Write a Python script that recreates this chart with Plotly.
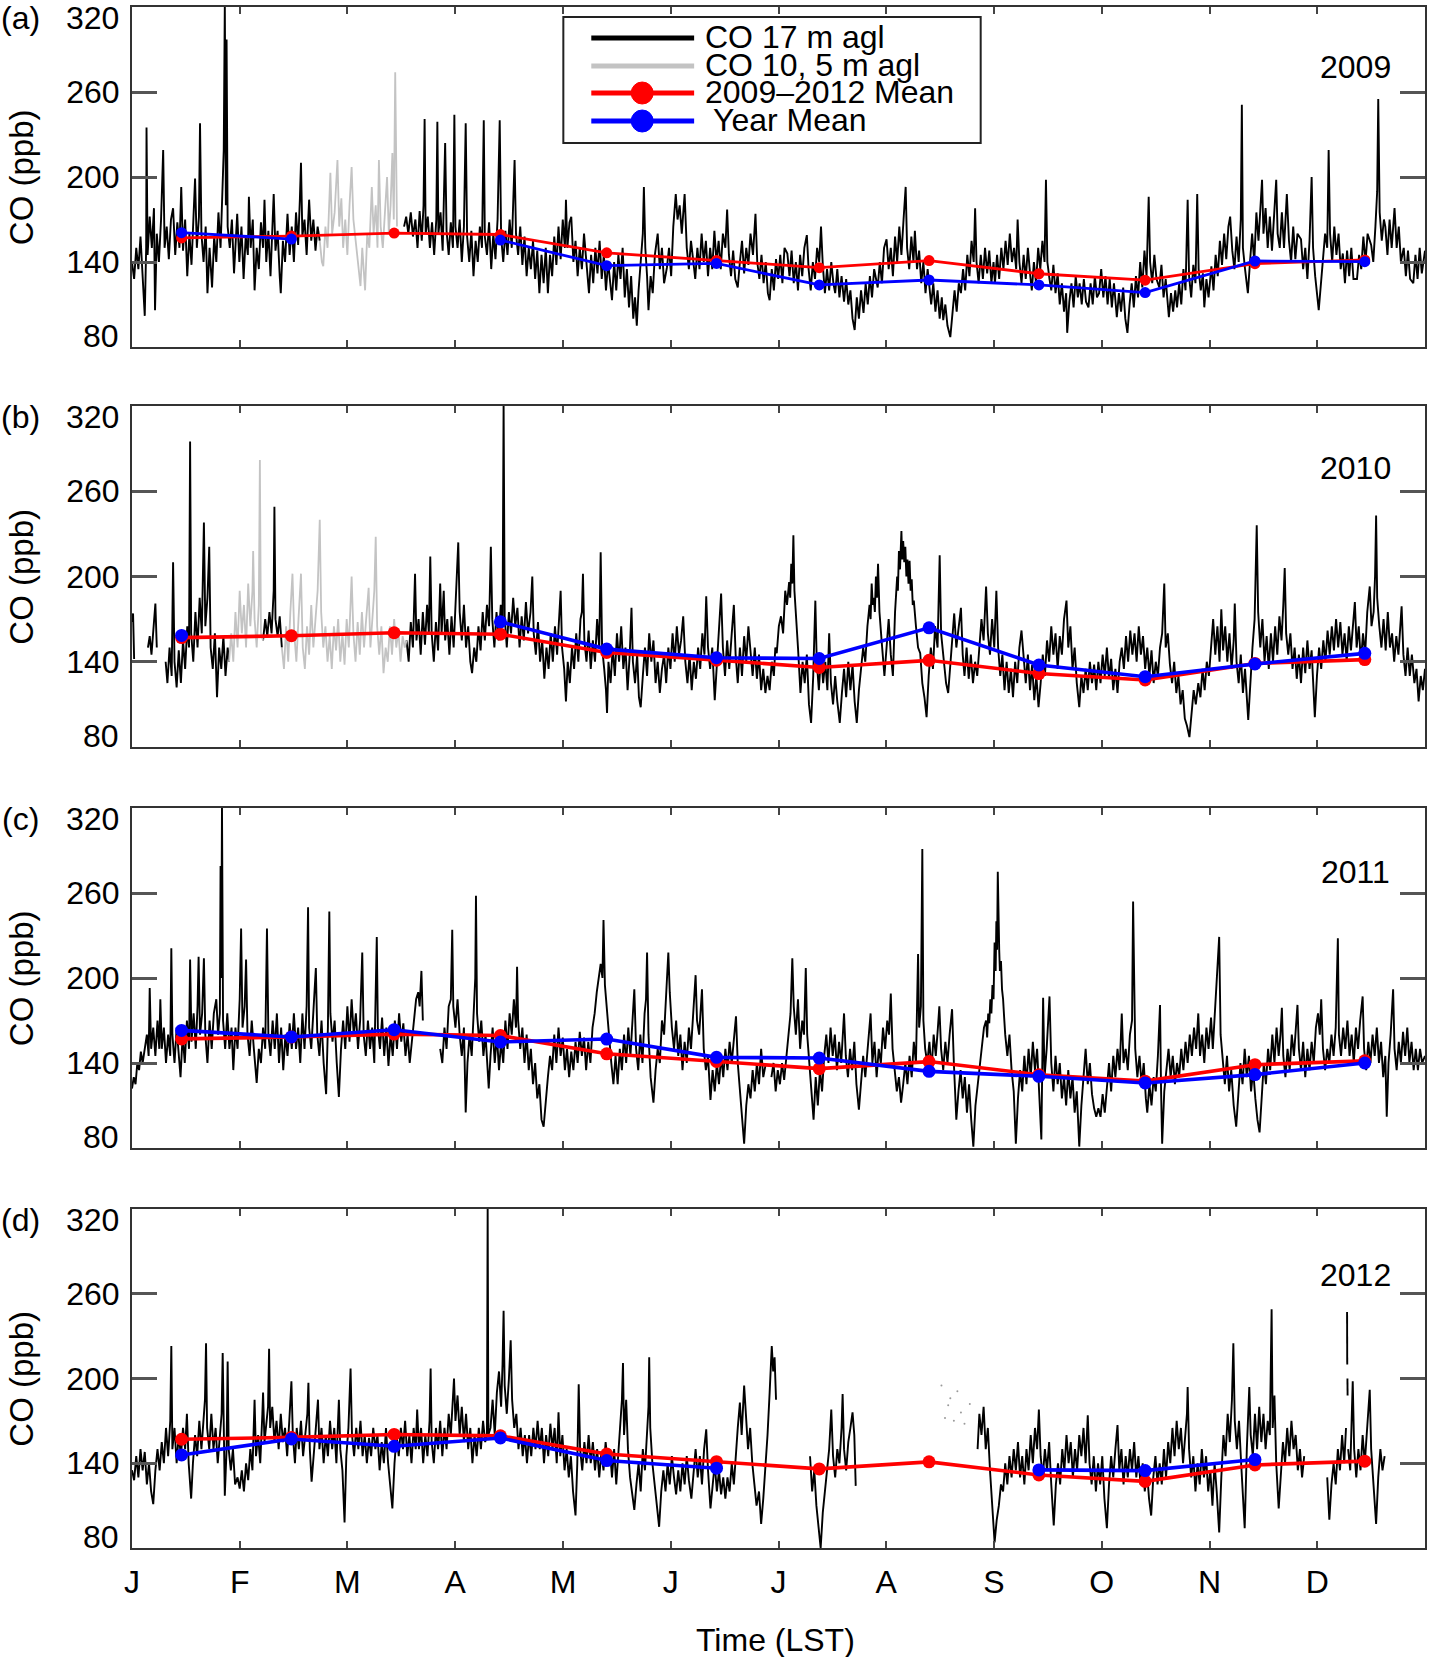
import plotly.graph_objects as go

# ---------------- data ----------------
# month ticks are equally spaced on the reference axis (365/12 days apart)
MONTH_TICKS = [0.0, 30.4, 60.8, 91.25, 121.7, 152.1, 182.5, 212.9, 243.3, 273.75, 304.2, 334.6]
MONTH_LABELS = ["J", "F", "M", "A", "M", "J", "J", "A", "S", "O", "N", "D"]
MEAN_DAY = [14, 45, 74, 104, 134, 165, 194, 225, 256, 286, 317, 348]
MEAN_2009_2012 = [157.0, 158.3, 160.4, 159.4, 146.5, 141.1, 136.0, 141.0, 131.7, 127.2, 138.8, 141.5]
MEAN_2009 = [160.7, 156.2, None, 155.5, 137.4, 139.0, 123.8, 127.3, 123.8, 118.4, 140.7, 140.2]
MEAN_2010 = [158.5, None, None, 168.1, 148.9, 142.8, 142.3, 163.9, 137.7, 129.5, 138.4, 145.9]
MEAN_2011 = [163.0, 158.4, 163.5, 154.8, 156.9, 144.0, 143.5, 134.1, 130.6, 125.9, 131.8, 140.0]
MEAN_2012 = [145.9, 157.2, 152.0, 157.9, 141.9, 136.5, None, None, 135.3, 134.8, 142.6, None]
YEARS = [2009, 2010, 2011, 2012]
PANEL_TAGS = ["(a)", "(b)", "(c)", "(d)"]

# (day of year, CO ppb); None = no data
CO17_2009 = [
(0.0,140),(0.6,128),(1.2,150),(1.8,135),(2.4,158),(3.0,132),(3.6,102),(4.0,150),(4.1,235),(4.4,145),
(5.0,172),(5.6,150),(6.2,178),(6.5,106),(7.0,160),(7.6,140),(8.2,170),(8.8,219),(9.2,150),(9.8,165),
(10.4,142),(11.0,170),(11.6,178),(12.2,145),(12.8,168),(13.4,150),(13.9,193),(14.4,148),(15.0,170),(15.6,130),
(16.2,160),(16.8,138),(17.4,172),(17.8,199),(18.3,150),(18.9,172),(19.2,238),(19.6,160),(20.2,140),(20.8,165),
(21.3,118),(21.9,150),(22.6,122),(23.2,158),(23.8,140),(24.4,175),(25.0,150),(25.6,200),(25.9,219),(26.2,322),
(26.5,180),(26.7,297),(27.0,165),(27.6,150),(28.2,170),(28.8,132),(29.4,160),(29.7,174),(30.3,140),(30.9,165),
(31.5,128),(32.1,158),(32.7,145),(33.0,186),(33.5,150),(34.1,170),(34.6,120),(35.2,150),(35.8,135),(36.4,168),
(37.0,150),(37.4,184),(37.9,140),(38.5,162),(39.1,130),(39.7,170),(40.0,188),(40.5,148),(41.1,162),(41.7,130),
(42.0,118),(42.6,155),(43.2,140),(43.9,174),(44.5,145),(45.1,165),(45.7,140),(46.3,175),(46.9,152),(47.4,185),
(47.7,210),(48.1,158),(48.7,170),(49.3,145),(50.0,184),(50.6,155),(51.2,170),(51.8,148),(52.4,165),(53.0,155),
(60.0,None),
(76.8,165),(77.4,172),(78.0,160),(78.7,175),(79.3,158),(80.0,170),(80.6,150),(81.2,176),(81.8,155),(82.3,180),
(82.6,241),(82.9,160),(83.5,172),(84.1,150),(84.7,168),(85.3,145),(85.9,170),(86.2,239),(86.5,160),(87.1,175),
(87.7,148),(88.1,190),(88.4,224),(88.8,162),(89.4,145),(90.0,168),(90.6,150),(91.0,244),(91.3,165),(91.9,150),
(92.5,170),(93.1,140),(93.7,165),(94.2,238),(94.6,158),(95.2,140),(95.8,162),(96.4,130),(97.0,155),(97.6,140),
(98.2,165),(98.8,150),(99.3,240),(99.6,158),(100.2,145),(100.8,168),(101.4,135),(102.0,160),(102.6,142),(103.2,170),
(103.8,240),(104.2,158),(104.8,140),(105.4,162),(106.0,145),(106.6,170),(107.2,150),(108.0,212),(108.4,160),(109.0,145),
(109.6,165),(110.2,138),(110.8,158),(111.4,130),(112.0,150),(112.6,135),(113.2,155),(113.8,128),(114.4,148),(115.0,118),
(115.6,145),(116.2,125),(116.8,150),(117.4,118),(118.0,145),(118.6,130),(119.2,158),(119.8,138),(120.4,165),(121.0,142),
(121.6,170),(122.2,150),(122.5,184),(122.9,150),(123.5,168),(124.0,172),(124.6,140),(125.2,155),(125.8,130),(126.4,150),
(127.0,135),(127.6,160),(128.2,140),(129.0,118),(129.6,145),(130.2,125),(130.8,150),(131.4,132),(132.0,155),(132.6,128),
(133.2,145),(133.8,120),(134.4,140),(135.0,125),(135.5,113),(136.1,140),(136.7,120),(137.3,145),(137.9,128),(138.5,150),
(139.1,115),(139.7,135),(140.3,108),(140.9,130),(141.5,100),(142.0,115),(142.5,95),(143.0,120),(143.6,140),(144.2,160),
(144.5,193),(144.9,150),(145.4,130),(145.8,106),(146.4,130),(147.0,118),(147.6,145),(148.4,160),(149.0,135),(149.6,150),
(150.2,125),(151.0,136),(151.6,150),(152.2,130),(152.8,165),(153.5,188),(154.0,170),(154.6,180),(155.2,160),(156.0,188),
(156.6,150),(157.2,135),(157.8,155),(158.4,140),(159.0,128),(159.6,150),(160.2,135),(160.8,160),(161.4,140),(162.0,155),
(162.6,130),(163.2,150),(163.8,135),(164.4,162),(165.0,140),(165.6,155),(166.2,135),(166.8,160),(167.5,150),(168.0,177),
(168.5,145),(169.1,130),(169.7,148),(170.3,128),(171.0,122),(171.6,140),(172.2,155),(172.8,132),(173.4,150),(174.0,138),
(174.6,160),(175.3,145),(176.0,174),(176.5,140),(177.1,128),(177.7,145),(178.3,125),(178.9,140),(179.5,118),(180.0,113),
(180.6,135),(181.2,120),(181.8,142),(182.4,128),(183.0,145),(183.6,125),(184.2,150),(185.0,146),(185.6,130),(186.2,148),
(186.8,125),(187.4,140),(188.0,120),(188.6,145),(189.2,130),(189.8,150),(190.5,159),(191.0,135),(191.6,120),(192.2,140),
(192.8,128),(193.4,150),(194.0,140),(194.5,165),(195.0,138),(195.6,118),(196.2,135),(196.8,120),(197.4,140),(198.0,125),
(198.5,118),(199.1,135),(199.7,115),(200.3,130),(201.0,112),(201.6,128),(202.2,110),(202.8,120),(203.4,100),(204.0,92),
(204.6,115),(205.2,100),(205.8,120),(206.5,104),(207.1,125),(207.7,110),(208.3,130),(208.9,115),(209.5,135),(210.5,122),
(211.1,140),(211.7,125),(212.3,150),(213.0,156),(213.6,135),(214.2,150),(214.8,130),(215.4,158),(216.0,140),(216.6,165),
(217.2,145),(217.8,170),(218.4,193),(218.8,150),(219.4,135),(220.0,158),(220.6,140),(221.0,162),(221.6,135),(222.2,148),
(222.8,125),(223.4,140),(224.0,118),(224.6,135),(225.0,125),(225.6,110),(226.2,125),(226.8,105),(227.4,120),(228.0,100),
(228.6,115),(229.0,99),(229.6,110),(230.2,95),(231.0,87),(231.6,105),(232.2,120),(232.8,105),(233.4,125),(234.0,118),
(234.6,135),(235.2,120),(235.8,145),(236.4,130),(237.0,155),(237.6,140),(238.0,178),(238.4,140),(239.0,125),(239.6,145),
(240.2,128),(240.8,150),(241.4,132),(242.0,148),(242.6,125),(243.2,140),(243.6,125),(244.2,145),(244.8,128),(245.4,150),
(246.0,135),(246.6,155),(247.2,138),(247.8,160),(248.4,140),(249.0,150),(249.6,135),(250.0,170),(250.5,140),(251.1,125),
(251.7,145),(252.3,128),(252.9,150),(253.5,132),(254.0,120),(254.6,140),(255.2,125),(255.8,150),(256.4,135),(257.0,155),
(257.6,140),(258.0,198),(258.4,140),(259.0,128),(259.5,120),(260.1,138),(260.7,118),(261.3,132),(261.9,110),(262.5,125),
(263.1,105),(263.7,118),(264.0,90),(264.6,112),(265.2,125),(265.8,108),(266.4,130),(267.0,115),(267.5,125),(268.1,110),
(268.7,128),(269.3,112),(270.0,108),(270.6,125),(271.2,110),(271.8,130),(272.4,115),(273.0,118),(273.6,135),(274.2,115),
(274.8,130),(275.4,110),(276.0,128),(276.6,108),(277.2,125),(278.0,101),(278.6,118),(279.2,105),(279.8,122),(280.4,100),
(281.0,90),(281.6,110),(282.2,125),(282.8,108),(283.4,130),(284.0,115),(284.6,140),(285.2,122),(285.8,148),(286.4,130),
(287.0,186),(287.4,140),(288.0,125),(288.6,145),(289.2,128),(290.0,122),(290.6,138),(291.2,115),(291.8,128),(292.7,101),
(293.3,118),(293.9,105),(294.5,120),(295.0,108),(295.6,125),(296.2,110),(296.8,135),(297.4,120),(298.0,184),(298.4,130),
(299.0,115),(299.6,138),(300.2,125),(300.7,188),(301.1,135),(301.7,120),(302.3,132),(302.7,108),(303.3,128),(303.9,115),
(304.7,137),(305.3,120),(305.9,145),(306.5,130),(307.1,155),(307.7,138),(308.3,160),(308.9,142),(309.5,165),(310.0,172),
(310.6,148),(311.2,135),(311.8,158),(312.4,140),(313.0,170),(313.3,251),(313.6,150),(314.2,135),(315.0,118),(315.6,140),
(316.2,160),(316.8,140),(317.4,175),(318.0,155),(318.6,180),(319.0,198),(319.4,160),(320.0,178),(320.6,150),(321.2,172),
(321.8,148),(322.4,175),(323.0,198),(323.4,160),(324.0,150),(324.6,175),(325.2,150),(326.0,188),(326.6,155),(327.2,140),
(327.8,165),(328.4,142),(329.0,160),(330.0,156),(330.6,135),(331.2,150),(331.8,128),(332.4,155),(333.0,200),(333.4,150),
(334.0,130),(335.0,106),(335.6,125),(336.2,140),(336.8,160),(337.4,150),(337.8,219),(338.2,160),(338.8,140),(339.4,165),
(340.0,145),(340.6,160),(341.2,135),(341.8,146),(342.4,125),(343.0,148),(343.6,130),(344.2,150),(344.8,128),(345.8,128),
(346.4,145),(347.0,135),(347.6,158),(348.2,140),(348.8,160),(349.8,152),(350.4,140),(351.0,165),(351.5,190),(351.8,255),
(352.2,175),(352.8,155),(353.4,170),(353.8,165),(354.4,145),(355.0,170),(355.6,150),(356.4,178),(357.0,150),(357.6,165),
(358.2,140),(359.0,150),(359.6,130),(360.2,148),(360.8,128),(361.7,125),(362.3,145),(362.9,128),(363.5,150),(364.1,132),
(365.0,148)]

CO105_2009 = [
(53.0,155),(53.6,140),(54.0,137),(54.6,165),(55.2,150),(56.0,203),(56.5,160),(57.2,175),(58.0,212),(58.5,165),
(59.1,185),(59.6,150),(60.2,170),(60.8,145),(61.4,180),(62.0,207),(62.5,170),(63.1,155),(63.8,140),(64.5,123),
(65.0,150),(65.8,120),(66.4,160),(67.0,150),(67.7,193),(68.2,160),(68.8,180),(69.3,150),(69.7,212),(70.2,165),
(70.8,150),(71.4,180),(72.0,200),(72.5,160),(73.0,180),(73.5,217),(73.9,170),(74.3,274),(74.6,190),(74.8,165)]

CO17_2010 = [
(0.0,168),(0.3,174),(0.6,142),(2.0,None),
(4.5,150),(5.0,158),(5.5,145),(6.0,162),(6.6,181),(7.0,150),(8.0,None),
(9.5,140),(10.0,125),(10.6,150),(11.2,130),(11.6,210),(12.0,140),(12.6,122),(13.2,148),(13.8,125),(14.4,155),
(15.0,135),(15.6,165),(16.1,150),(16.4,295),(16.7,160),(17.3,140),(17.9,175),(18.5,150),(19.1,185),(19.7,160),
(20.3,238),(20.7,165),(21.3,185),(21.8,221),(22.2,150),(22.8,135),(23.4,160),(24.0,115),(24.6,150),(25.2,135),
(25.8,158),(26.4,130),(27.0,150),(27.4,140),(30.0,None),
(37.0,155),(37.6,170),(38.2,158),(38.8,175),(39.4,160),(40.0,190),(40.2,249),(40.5,170),(41.1,158),(41.7,172),
(42.3,150),(60.0,None),
(77.5,155),(78.1,140),(78.7,168),(79.3,150),(79.9,202),(80.3,155),(80.9,170),(81.5,145),(82.1,175),(82.7,152),
(83.3,180),(83.8,160),(84.2,214),(84.6,160),(85.2,140),(85.8,168),(86.4,148),(87.0,195),(87.4,160),(88.0,190),
(88.4,155),(89.0,170),(89.6,145),(90.2,172),(90.8,150),(91.5,185),(92.1,224),(92.5,175),(93.1,155),(93.7,180),
(94.3,150),(94.9,165),(95.5,140),(96.0,132),(96.6,150),(97.2,140),(97.8,165),(98.4,148),(99.0,175),(99.6,155),
(100.2,180),(100.8,165),(101.3,221),(101.7,170),(102.3,150),(102.9,175),(103.5,155),(104.1,180),(104.6,165),(104.9,322),
(105.2,172),(105.8,150),(106.4,175),(107.0,160),(107.6,185),(108.2,165),(108.8,178),(109.4,150),(110.0,172),(110.6,155),
(111.2,182),(111.8,160),(112.5,175),(113.0,200),(113.4,160),(114.0,145),(114.6,168),(115.2,140),(115.8,155),(116.4,128),
(117.0,150),(117.6,135),(118.2,160),(118.8,140),(119.4,165),(120.0,145),(120.6,170),(121.0,190),(121.4,150),(122.0,135),
(122.5,112),(123.0,140),(123.6,125),(124.2,150),(124.8,135),(125.4,160),(126.0,140),(126.6,170),(127.0,175),(127.3,202),
(127.7,155),(128.3,140),(128.9,162),(129.5,135),(130.1,155),(130.7,140),(131.3,170),(131.9,150),(132.3,217),(132.7,150),
(133.3,135),(133.8,120),(134.1,104),(134.5,140),(135.1,125),(135.7,150),(136.3,130),(136.9,160),(137.5,140),(138.1,165),
(138.7,135),(139.3,150),(139.9,120),(140.5,145),(141.0,178),(141.4,140),(142.0,125),(142.6,145),(143.1,115),(143.6,108),
(144.2,130),(144.8,150),(145.4,130),(146.0,160),(146.6,140),(147.2,155),(147.8,125),(148.4,140),(149.0,118),(149.6,135),
(150.2,145),(150.8,125),(151.4,150),(152.0,135),(152.6,160),(153.2,140),(153.8,165),(154.4,145),(155.0,155),(155.6,172),
(156.2,140),(156.8,125),(157.4,145),(158.0,120),(158.6,140),(159.2,128),(159.8,150),(160.4,135),(161.0,160),(161.6,145),
(162.1,186),(162.6,150),(163.2,135),(163.8,150),(164.5,113),(165.1,140),(165.7,160),(166.3,188),(166.8,150),(167.4,130),
(168.0,155),(168.6,135),(169.3,160),(169.9,180),(170.4,145),(171.0,125),(171.6,150),(172.2,130),(172.8,158),(173.4,140),
(174.0,165),(174.6,145),(175.2,130),(175.8,150),(176.4,128),(177.0,145),(177.6,120),(178.2,135),(178.8,118),(179.4,130),
(180.0,120),(180.6,140),(181.2,130),(181.6,150),(182.0,146),(182.6,165),(183.2,172),(183.8,160),(184.4,190),(184.9,180),
(185.5,196),(185.8,185),(186.1,209),(186.4,195),(186.7,229),(187.0,190),(187.3,175),(187.6,160),(188.0,150),(188.7,118),
(189.3,140),(189.9,125),(190.5,145),(191.1,110),(191.7,97),(192.3,130),(192.9,183),(193.3,140),
(193.9,120),(194.5,145),(195.1,125),(195.7,140),(196.3,120),(196.8,160),(197.3,125),(197.9,110),(198.5,130),(199.1,112),
(199.8,97),(200.4,118),(201.0,135),(201.6,115),(202.2,140),(202.8,120),(203.4,138),(204.0,112),(204.6,97),(205.2,120),
(205.8,135),(206.4,150),(207.0,140),(207.6,165),(208.2,180),(208.5,170),(208.8,195),(209.1,180),(209.4,185),(209.7,175),
(210.0,200),(210.3,185),(210.6,209),(211.0,175),
(211.6,155),(212.4,130),(213.0,150),(213.6,170),(214.2,145),(214.8,130),(215.4,175),(216.0,200),(216.2,190),(216.5,218),
(216.8,205),(217.2,232),(217.4,212),(217.7,225),(218.0,210),(218.3,221),(218.6,200),(218.9,212),(219.2,195),(219.5,211),
(219.8,190),(220.1,198),(220.4,180),(220.7,183),(221.3,165),(221.9,150),(222.5,146),(223.1,125),
(223.7,115),(224.3,101),(224.9,130),(225.5,150),(226.1,135),(226.7,165),(227.4,150),(228.0,215),(228.4,160),(229.2,138),
(229.8,125),(230.4,118),(231.0,140),(231.6,160),(232.1,174),(232.7,150),(233.3,165),(234.0,178),(234.5,145),(235.0,130),
(235.6,150),(236.2,128),(236.8,145),(237.4,125),(238.0,140),(238.6,130),(239.2,150),(239.8,170),(240.4,155),(241.1,193),
(241.6,160),(242.2,145),(242.8,170),(243.4,150),(244.0,190),(244.5,150),(245.1,130),(245.7,145),(246.3,120),(246.9,140),
(247.5,118),(248.1,135),(248.7,115),(249.3,140),(249.9,125),(250.5,150),(251.1,162),(251.7,140),(252.3,125),(252.9,145),
(253.5,120),(254.1,138),(254.7,113),(255.3,130),(255.9,108),(256.5,125),(257.1,145),(257.7,130),(258.3,155),(258.9,140),
(259.5,165),(260.1,145),(260.7,160),(261.3,135),(261.9,158),(262.5,145),(263.1,170),(263.8,183),(264.3,150),(264.9,165),
(265.5,135),(266.1,150),(266.7,125),(267.4,108),(268.0,130),(268.6,118),(269.2,135),(269.8,120),(270.4,140),(271.0,125),
(271.6,138),(272.2,120),(272.8,140),(273.4,125),(274.0,145),(274.6,130),(275.2,150),(275.8,128),(276.4,142),(277.0,120),
(277.6,135),(278.2,118),(278.8,140),(279.4,150),(280.0,135),(280.6,158),(281.2,140),(281.8,162),(282.4,145),(283.0,160),
(283.6,140),(284.2,165),(284.8,145),(285.4,158),(286.0,135),(286.6,150),(287.2,130),(287.8,148),(288.4,125),(289.0,140),
(289.6,130),(290.2,150),(290.8,160),(291.4,195),(291.8,150),(292.4,160),(293.0,138),(293.6,125),(294.2,140),(294.8,118),
(295.4,130),(296.0,110),(296.6,120),(297.2,100),(297.8,95),(298.5,87),(299.1,105),(299.7,120),(300.3,110),(301.0,125),
(301.6,115),(302.2,135),(302.8,120),(303.4,140),(304.0,130),(304.6,150),(305.2,170),(305.8,145),(306.4,165),(307.0,140),
(307.5,177),(308.0,148),(308.6,165),(309.2,140),(309.8,160),(310.4,135),(311.0,155),(311.3,181),(311.8,140),(312.4,125),
(313.0,145),(313.6,118),(314.2,135),(315.1,99),(315.7,130),(316.3,150),(316.9,170),(317.5,236),(317.9,175),(318.5,150),
(319.1,170),(319.7,140),(320.3,158),(320.9,135),(321.5,160),(322.1,140),(322.7,165),(323.3,145),(323.9,172),(324.5,155),
(325.0,180),(325.4,206),(325.8,160),(326.4,145),(327.0,160),(327.6,135),(328.2,150),(328.8,128),(329.4,145),(330.0,125),
(330.6,150),(331.2,132),(331.8,155),(332.4,135),(333.0,148),(333.9,101),(334.5,130),(335.1,150),(335.7,135),(336.3,155),
(336.9,140),(337.5,162),(338.1,145),(338.7,165),(339.3,148),(339.9,170),(340.5,150),(341.1,168),(341.7,145),(342.3,160),
(342.9,140),(343.5,165),(344.1,148),(344.7,170),(345.2,182),(345.7,150),(346.3,165),(346.9,140),(347.5,160),(348.1,145),
(348.7,175),(349.4,193),(349.9,165),(350.5,175),(350.9,200),(351.2,243),(351.5,185),(352.1,165),(352.7,150),(353.3,170),
(353.9,148),(354.5,175),(355.1,150),(355.7,160),(356.3,140),(356.9,158),(357.5,145),(358.4,179),(358.9,145),(359.5,130),
(360.1,150),(360.7,130),(361.3,145),(362.0,125),(362.6,135),(363.2,112),(363.8,130),(364.4,120),(365.0,135)]

CO105_2010 = [
(27.4,140),(28.0,160),(28.6,140),(29.2,175),(29.8,150),(30.4,190),(31.0,160),(31.6,180),(32.2,150),(32.8,195),
(33.4,165),(34.0,190),(34.2,218),(34.6,170),(35.2,150),(35.8,180),(36.1,282),(36.4,160),(37.0,155),(40.0,None),
(42.3,150),(42.9,135),(43.5,165),(44.1,140),(44.7,175),(45.3,202),(45.8,160),(46.4,140),(47.0,170),(47.7,202),
(48.2,150),(48.8,135),(49.4,165),(50.0,145),(50.6,180),(51.2,150),(51.8,170),(52.4,190),(53.0,240),(53.4,175),
(54.0,150),(54.6,165),(55.2,140),(55.8,158),(56.4,135),(57.0,165),(57.6,148),(58.2,170),(58.8,140),(59.4,160),
(60.0,138),(60.6,170),(61.2,150),(62.0,200),(62.5,160),(63.1,140),(63.7,168),(64.3,145),(64.9,175),(65.5,150),
(66.1,170),(66.8,192),(67.3,150),(67.9,170),(68.4,190),(68.8,228),(69.2,165),(69.8,145),(70.4,165),(71.0,132),
(71.6,150),(72.2,140),(72.8,165),(73.4,145),(74.0,170),(74.6,150),(75.2,162),(75.8,140),(76.4,158),(77.0,150),
(77.5,155)]

CO17_2011 = [
(0.0,122),(0.5,130),(1.0,125),(1.5,140),(2.0,135),(2.5,148),(3.0,140),(3.6,150),(4.2,160),(4.7,145),
(5.0,193),(5.4,150),(6.0,165),(6.6,145),(7.2,170),(7.7,150),(8.0,185),(8.4,150),(9.0,165),(9.6,140),
(10.2,160),(10.8,145),(11.1,221),(11.4,160),(12.0,140),(12.6,165),(13.1,150),(13.7,130),(14.3,160),(14.9,140),
(15.5,170),(16.1,150),(16.4,213),(16.8,155),(17.4,175),(18.0,150),(18.5,180),(18.8,215),(19.2,160),(19.8,175),
(20.3,214),(20.7,160),(21.3,140),(21.9,170),(22.5,150),(23.1,175),(23.8,185),(24.3,160),(24.8,175),(25.0,279),
(25.2,200),(25.4,322),(25.7,170),(26.3,150),(26.9,175),(27.5,150),(28.1,165),(28.6,135),(29.2,165),(29.8,150),
(30.4,185),(30.8,235),(31.2,165),(31.8,180),(32.2,213),(32.6,160),(33.2,145),(33.8,170),(34.4,150),(35.2,126),
(35.8,150),(36.4,140),(37.0,165),(37.6,150),(38.1,235),(38.5,160),(39.1,145),(39.7,170),(40.3,150),(40.9,175),
(41.5,140),(42.1,165),(42.7,135),(43.3,160),(43.9,145),(44.5,168),(45.1,150),(45.7,175),(46.3,150),(46.9,165),
(47.5,140),(48.1,175),(48.7,150),(49.3,180),(49.7,250),(50.0,165),(50.6,150),(51.2,178),(51.9,207),(52.3,160),
(52.9,145),(53.5,170),(54.1,140),(54.8,118),(55.3,165),(55.7,247),(56.0,175),(56.6,155),(57.2,170),(57.8,140),
(58.4,116),(59.0,150),(59.6,170),(60.2,150),(60.8,180),(61.4,155),(62.0,185),(62.6,160),(63.2,175),(63.8,150),
(64.4,170),(65.0,218),(65.4,160),(66.0,145),(66.6,170),(67.2,150),(67.8,165),(68.4,140),(68.8,180),(69.1,229),
(69.4,165),(70.0,150),(70.6,172),(71.2,145),(71.8,165),(72.4,138),(73.0,160),(73.6,145),(74.2,170),(74.8,150),
(75.4,175),(76.0,155),(76.6,168),(77.2,145),(77.8,160),(78.4,140),(79.0,155),(79.6,170),(80.2,185),(80.8,190),
(81.2,180),(81.7,205),(82.1,170),(84.0,None),
(87.0,150),(87.6,140),(88.2,165),(88.8,150),(89.4,180),(90.0,185),(90.4,234),(90.7,180),(91.3,165),(91.9,185),
(92.5,160),(93.1,145),(93.7,165),(94.2,105),(94.7,140),(95.3,160),(95.9,145),(96.5,175),(96.9,200),(97.1,258),
(97.4,175),(98.0,155),(98.6,170),(99.2,145),(99.8,160),(100.4,135),(100.7,122),(101.2,145),(101.8,165),(102.4,140),
(103.0,160),(103.6,135),(104.2,155),(104.8,140),(105.4,170),(106.0,150),(106.6,175),(107.2,160),(107.8,185),(108.4,165),
(108.7,208),(109.0,170),(109.6,150),(110.2,165),(110.8,140),(111.4,160),(112.0,135),(112.6,150),(113.2,125),(113.8,140),
(114.4,115),(115.0,125),(115.6,100),(116.2,95),(116.8,115),(117.4,130),(118.0,145),(118.6,135),(119.2,160),(119.8,140),
(120.4,165),(121.0,145),(121.6,158),(122.2,135),(122.8,150),(123.4,130),(124.0,148),(124.6,135),(125.2,155),(125.8,140),
(126.4,162),(127.0,145),(127.6,158),(128.2,135),(128.8,155),(129.4,140),(130.0,165),(130.6,175),(131.2,190),(131.7,200),
(132.3,210),(132.8,200),(133.1,241),(133.5,195),(134.1,175),(134.7,160),(135.3,140),(135.9,125),(136.5,145),(137.1,125),
(137.7,150),(138.3,135),(138.9,160),(139.5,140),(140.1,165),(140.7,145),(141.3,170),(141.8,192),(142.3,150),(142.9,135),
(143.5,160),(144.1,140),(144.7,175),(145.1,185),(145.4,218),(145.8,160),(146.4,130),(147.2,112),(147.8,135),(148.4,150),
(149.0,140),(149.6,170),(150.2,160),(150.8,190),(151.1,200),(151.4,218),(151.8,190),(152.4,165),(153.0,150),(153.6,170),
(154.2,145),(154.8,160),(155.4,135),(156.0,155),(156.6,140),(157.2,165),(157.8,150),(158.4,175),(159.1,202),(159.5,170),
(160.1,160),(160.9,192),(161.4,150),(162.0,135),(162.6,145),(163.3,114),(163.9,135),(164.5,120),(165.1,140),(165.7,125),
(166.3,145),(166.9,130),(167.5,150),(168.1,135),(168.7,155),(169.3,140),(169.9,160),(170.5,173),(171.0,140),(171.6,120),
(172.2,105),(172.8,83),(173.4,110),(174.0,125),(174.6,115),(175.2,135),(175.8,120),(176.4,140),(177.0,125),(177.6,150),
(178.2,130),(178.8,138),(179.5,None),
(180.5,130),(181.1,140),(181.7,120),(182.3,135),(182.9,125),(183.5,140),(184.1,128),(184.7,145),(185.3,160),(185.9,175),
(186.4,214),(186.8,180),(187.4,160),(188.0,185),(188.6,150),(189.2,170),(189.7,160),(190.2,207),(190.6,160),(191.2,140),
(191.8,120),(192.4,100),(193.0,130),(193.6,110),(194.2,135),(194.8,120),(195.4,145),(196.0,160),(196.6,140),(197.2,165),
(197.8,145),(198.4,160),(199.0,135),(199.6,155),(200.2,140),(201.0,175),(201.5,145),(202.1,130),(202.7,150),(203.3,135),
(203.9,155),(204.5,125),(205.2,107),(205.8,130),(206.4,145),(207.0,130),(207.6,150),(208.5,175),(209.0,140),(209.6,155),
(210.2,130),(210.8,150),(211.4,140),(212.0,165),(212.6,150),(213.2,170),(213.7,160),(214.2,189),(214.7,150),(215.3,135),
(215.9,120),(216.5,130),(217.1,112),(217.7,125),(218.3,140),(218.9,125),(219.5,145),(220.1,130),(220.7,155),(221.3,140),
(221.9,217),(222.2,165),(222.7,180),(223.1,291),(223.4,170),(223.9,150),(224.5,140),(225.1,155),(225.7,135),(226.3,160),
(226.9,145),(227.5,165),(227.9,180),(228.4,150),(229.0,135),(229.6,155),(230.2,140),(230.8,160),(231.5,178),(232.0,140),
(232.7,100),(233.3,120),(233.9,135),(234.5,115),(235.1,130),(235.7,105),(236.3,125),(236.9,100),(237.5,81),(238.1,110),
(238.7,125),(239.3,140),(239.9,150),(240.5,165),(241.1,170),(241.4,158),(241.7,175),(242.0,168),(242.3,185),(242.6,175),
(242.9,195),(243.2,185),(243.5,225),(243.8,205),(244.0,240),(244.2,220),(244.4,275),(244.6,230),(244.8,220),(245.0,205),
(245.3,212),(245.6,192),(245.9,185),(246.2,172),(246.5,160),(247.1,145),(247.7,160),(248.3,135),(248.9,120),(249.5,83),
(250.1,115),(250.7,135),(251.3,120),(251.9,145),(252.5,125),(253.1,150),(253.7,130),(254.3,155),(254.9,135),(255.5,150),
(256.1,120),(256.7,86),(257.2,186),(257.6,130),(258.2,150),(259.0,187),(259.5,140),(260.1,120),(260.7,145),(261.3,125),
(261.9,140),(262.5,115),(263.1,130),(263.7,110),(264.3,135),(264.9,115),(265.5,130),(266.1,105),(266.7,120),(267.4,81),
(268.0,110),(268.6,130),(269.2,150),(269.8,125),(270.4,140),(271.0,118),(271.6,108),(272.2,102),(272.8,108),(273.4,102),
(274.0,118),(274.6,105),(275.2,125),(275.8,140),(276.4,120),(277.0,145),(277.6,130),(278.2,150),(278.8,135),(279.4,175),
(279.9,140),(280.5,150),(281.1,135),(281.7,160),(282.3,170),(282.6,254),(282.9,200),(283.2,150),(283.8,130),(284.4,145),
(285.0,125),(285.6,140),(286.2,115),(286.6,105),(287.2,125),(287.8,110),(288.4,130),(289.0,120),(289.6,145),(290.2,181),
(290.5,120),(290.8,83),(291.4,120),(292.0,135),(292.6,150),(293.2,130),(293.8,145),(294.4,125),(295.0,140),(295.6,130),
(296.2,150),(296.8,135),(297.4,155),(298.0,140),(298.6,160),(299.2,145),(299.8,165),(300.4,150),(301.0,175),(301.5,145),
(302.1,160),(302.7,140),(303.3,165),(303.9,150),(304.6,172),(305.1,150),(305.7,175),(306.3,198),(306.9,229),(307.3,160),
(307.9,140),(308.5,125),(309.1,145),(309.7,120),(310.3,135),(311.0,110),(311.7,95),(312.3,120),(312.9,140),(313.5,125),
(314.1,150),(314.7,130),(315.3,145),(315.9,120),(316.5,135),(317.1,115),(317.7,100),(318.3,91),(318.9,120),(319.5,140),
(320.1,125),(320.7,150),(321.3,135),(321.9,160),(322.5,140),(323.1,165),(323.7,145),(324.2,160),(324.6,179),(325.0,145),
(325.6,130),(326.2,150),(326.8,135),(327.4,160),(328.0,145),(328.6,165),(329.0,181),(329.4,150),(330.0,135),(330.6,155),
(331.2,130),(331.8,150),(332.4,135),(333.0,155),(333.6,140),(334.2,165),(334.8,175),(335.3,160),(335.7,185),(336.2,150),
(336.8,135),(337.4,150),(338.0,140),(338.6,160),(339.2,145),(339.8,165),(340.4,228),(340.7,160),(341.3,145),(341.9,165),
(342.5,150),(343.1,170),(343.7,145),(344.3,160),(344.9,140),(345.5,165),(346.1,150),(346.7,170),(347.4,187),(347.8,150),
(348.4,135),(349.0,155),(349.6,140),(350.2,160),(350.8,145),(351.4,165),(352.0,140),(352.6,155),(353.2,130),(353.8,145),
(354.2,102),(354.7,140),(355.3,160),(356.0,192),(356.4,150),(357.0,135),(357.6,155),(358.2,140),(358.8,162),(359.4,145),
(360.0,165),(360.6,140),(361.2,155),(361.8,135),(362.4,150),(363.0,135),(363.6,150),(364.2,140),(365.0,145)]

CO17_2012 = [
(0.0,135),(0.6,128),(1.2,145),(1.8,130),(2.4,150),(3.0,135),(3.6,148),(4.2,125),(4.8,140),(5.4,120),
(6.0,111),(6.6,135),(7.2,150),(7.8,135),(8.4,155),(9.0,140),(9.6,165),(10.2,145),(10.8,170),(11.1,223),
(11.4,150),(12.0,165),(12.6,140),(13.2,160),(13.8,145),(14.4,165),(15.0,150),(15.5,175),(16.0,140),(16.7,115),
(17.2,140),(17.8,160),(18.4,145),(19.0,170),(19.6,150),(20.2,175),(20.6,185),(20.9,225),(21.2,165),(21.8,150),
(22.4,175),(23.0,150),(23.6,165),(24.2,140),(24.8,160),(25.3,175),(25.6,218),(25.9,150),(26.2,117),(26.7,150),
(27.0,212),(27.3,150),(27.9,135),(28.5,150),(29.1,125),(29.8,130),(30.4,122),(31.0,135),(31.6,120),(32.2,140),
(32.8,128),(33.4,150),(34.0,135),(34.6,185),(35.0,145),(35.6,160),(36.2,140),(36.8,175),(37.0,190),(37.4,155),
(38.0,170),(38.4,180),(38.7,221),(39.0,165),(39.6,180),(40.2,155),(40.8,170),(41.4,150),(42.0,175),(42.6,155),
(43.2,165),(43.8,145),(44.4,170),(45.0,198),(45.4,160),(46.0,140),(46.5,165),(47.1,150),(47.7,170),(48.3,145),
(48.9,160),(49.5,175),(49.8,197),(50.2,150),(50.7,127),(51.3,150),(51.9,165),(52.5,185),(52.9,150),(53.5,165),
(54.1,140),(54.7,160),(55.3,145),(55.9,170),(56.5,150),(57.1,165),(57.7,140),(58.4,185),(58.8,150),(59.4,135),
(60.0,98),(60.5,145),(61.1,165),(61.7,207),(62.1,160),(62.7,145),(63.3,165),(63.9,150),(64.5,170),(65.1,145),
(65.7,160),(66.3,140),(66.9,158),(67.5,145),(68.1,165),(68.7,150),(69.3,160),(69.9,135),(70.5,155),(71.1,140),
(71.7,165),(72.3,140),(72.9,125),(73.5,108),(74.1,140),(74.7,160),(75.3,145),(75.9,165),(76.5,150),(77.1,170),
(77.7,145),(78.3,160),(78.9,140),(79.5,165),(80.1,150),(80.5,178),(81.0,150),(81.6,165),(82.2,140),(82.8,160),
(83.4,145),(84.0,170),(84.3,207),(84.6,155),(85.2,140),(85.8,165),(86.4,150),(87.0,170),(87.6,145),(88.2,165),
(88.8,150),(89.4,175),(90.0,160),(90.6,185),(90.9,200),(91.3,170),(91.9,188),(92.5,160),(93.1,180),(93.7,155),
(94.3,175),(94.9,150),(95.5,165),(96.1,140),(96.7,160),(97.3,145),(97.9,165),(98.5,150),(99.1,170),(99.7,155),
(100.2,160),(100.4,322),(100.6,160),(101.2,165),(101.8,185),(102.4,160),(103.0,190),(103.6,205),(104.2,180),(104.6,210),
(104.9,248),(105.2,195),(105.8,175),(106.4,200),(106.9,227),(107.3,185),(107.9,165),(108.5,175),(109.1,150),(109.7,165),
(110.3,145),(110.9,160),(111.5,140),(112.1,160),(112.7,145),(113.3,165),(113.9,150),(114.5,170),(115.1,150),(115.7,165),
(116.3,140),(116.9,160),(117.5,145),(118.1,168),(118.7,150),(119.3,165),(119.9,140),(120.4,176),(120.9,145),(121.5,160),
(122.1,135),(122.7,150),(123.3,130),(123.9,145),(124.5,120),(125.2,103),(125.7,140),(126.1,196),(126.5,150),(127.1,135),
(127.7,155),(128.3,140),(128.9,160),(129.5,140),(130.1,155),(130.7,135),(131.3,150),(131.9,130),(132.5,148),(133.1,135),
(133.7,155),(134.3,140),(134.9,150),(135.5,130),(136.1,150),(136.7,125),(137.3,150),(137.9,170),(138.3,185),(138.6,211),
(138.9,160),(139.5,185),(140.0,150),(140.6,130),(141.2,120),(141.8,107),(142.4,125),(143.0,140),(143.6,120),(144.2,150),
(144.8,135),(145.4,165),(145.8,180),(146.0,215),(146.3,165),(146.9,140),(147.5,125),(148.1,110),(148.8,95),(149.4,120),
(150.0,135),(150.6,120),(151.2,140),(151.8,125),(152.4,145),(153.0,130),(153.6,118),(154.2,135),(154.8,120),(155.4,140),
(156.0,125),(156.6,145),(157.2,128),(157.9,115),(158.5,135),(159.1,150),(159.7,130),(160.3,145),(160.9,125),(161.5,150),
(162.1,164),(162.6,135),(163.3,108),(163.9,125),(164.5,140),(165.1,120),(165.7,135),(166.3,118),(166.9,130),(167.5,115),
(168.1,130),(168.7,120),(169.3,140),(169.9,125),(170.5,150),(171.0,165),(171.6,183),(172.1,160),(172.8,195),(173.3,170),
(173.9,150),(174.5,165),(175.1,140),(175.7,125),(176.3,110),(177.0,120),(177.6,97),(178.2,115),(178.8,135),(179.4,160),
(180.0,190),(180.6,223),(181.0,205),(181.4,215),(181.8,185),(186.0,None),
(191.4,145),(192.0,120),(192.6,135),(193.2,110),(193.8,95),(194.4,80),(195.0,105),(195.6,120),(196.2,140),(196.8,150),
(197.4,178),(197.9,145),(198.5,130),(199.1,150),(199.7,140),(200.3,165),(200.6,189),(201.0,150),(201.6,135),(202.2,155),
(202.8,165),(203.4,176),(203.9,160),(204.3,124),(220.0,None),
(238.7,150),(239.2,175),(239.8,160),(240.4,180),(241.0,150),(241.6,165),(242.2,135),(242.8,110),(243.5,84),(244.1,100),
(244.7,110),(245.3,125),(245.9,120),(246.5,140),(247.1,125),(247.7,145),(248.3,130),(248.9,150),(249.5,135),(250.1,155),
(250.7,130),(251.3,145),(251.9,125),(252.5,150),(253.1,135),(253.7,160),(254.3,140),(254.9,165),(255.5,150),(256.0,178),
(256.5,145),(257.1,130),(257.7,150),(258.3,135),(258.9,155),(259.5,125),(260.2,96),(260.8,125),(261.4,140),(262.0,125),
(262.6,150),(263.2,135),(263.8,160),(264.4,140),(265.0,155),(265.6,130),(266.2,150),(266.8,135),(267.4,160),(268.0,145),
(268.6,165),(269.2,140),(269.8,174),(270.3,140),(270.9,125),(271.5,145),(272.1,120),(272.7,140),(273.3,125),(273.9,145),
(274.5,115),(275.2,94),(275.8,125),(276.4,145),(277.0,130),(277.6,150),(278.2,167),(278.7,135),(279.3,150),(279.9,125),
(280.5,145),(281.1,130),(281.7,150),(282.3,135),(282.9,155),(283.5,130),(284.1,145),(284.7,125),(285.3,140),(285.9,120),
(286.5,135),(287.1,115),(287.7,103),(288.3,130),(288.9,145),(289.5,125),(290.1,140),(290.7,125),(291.3,150),(291.9,130),
(292.5,155),(293.1,140),(293.7,165),(294.3,145),(294.9,170),(295.5,150),(296.1,165),(296.7,140),(297.3,160),(297.8,175),
(298.0,194),(298.4,150),(299.0,130),(299.6,145),(300.2,120),(300.8,140),(301.4,125),(302.0,150),(302.6,130),(303.2,145),
(303.8,120),(304.4,135),(305.0,110),(305.6,140),(306.2,120),(306.9,91),(307.5,130),(308.1,160),(308.7,145),(309.3,175),
(309.9,155),(310.5,185),(310.9,225),(311.3,170),(311.9,150),(312.5,170),(313.1,140),(313.6,120),(314.1,94),(314.7,150),
(315.4,194),(315.8,160),(316.4,145),(317.0,175),(317.6,150),(318.2,180),(318.8,155),(319.4,175),(320.0,150),(320.6,170),
(321.2,160),(321.7,249),(322.0,165),(322.5,188),(323.0,140),(323.7,108),(324.3,135),(324.9,155),(325.5,140),(326.1,165),
(326.7,145),(327.3,170),(327.9,150),(328.5,160),(329.1,135),(329.7,150),(330.3,130),(330.9,145),(334.0,None),
(337.4,130),(338.0,100),(338.6,125),(339.2,140),(339.8,125),(340.4,150),(341.0,135),(341.6,160),(342.2,140),(342.7,165),
(342.9,None),(343.0,247),(343.05,210),(343.1,None),(343.1,200),(343.15,188),(343.2,None),
(343.3,150),(343.9,135),(344.6,198),(345.0,150),(345.6,130),(346.2,150),(346.8,135),(347.4,160),(348.0,140),(348.6,165),
(349.4,192),(349.8,150),(350.4,130),(351.2,97),(351.8,130),(352.4,150),(353.0,135),(353.6,145)]

CO_DOTS_2012 = [(228.5,195),(229.5,172),(230.4,181),(231.0,186),(232.0,170),(233.0,191),(234.0,176),(235.0,168),(236.5,182)]

# ---------------- figure ----------------
FONT = "Liberation Sans, Arial, Helvetica, sans-serif"
FS = 32
W, H = 1430, 1657
ML, MR, MT, MB = 132, 3, 7, 109
PW, PH = W - ML - MR, H - MT - MB
PANEL_PX = [(7, 347), (406, 747), (808, 1148), (1209, 1548)]


def py(px):
    return (H - MB - px) / PH


def px_x(px):
    return (px - ML) / PW


def split(pairs):
    return [p[0] for p in pairs], [p[1] for p in pairs]


fig = go.Figure()
series17 = [CO17_2009, CO17_2010, CO17_2011, CO17_2012]
series105 = [CO105_2009, CO105_2010, None, None]
year_means = [MEAN_2009, MEAN_2010, MEAN_2011, MEAN_2012]

annotations = []
for i in range(4):
    n = i + 1
    xa = "x" if n == 1 else f"x{n}"
    ya = "y" if n == 1 else f"y{n}"
    d, v = split(series17[i])
    fig.add_trace(go.Scatter(x=d, y=v, mode="lines", line=dict(color="black", width=1.9),
                             xaxis=xa, yaxis=ya, showlegend=False, connectgaps=False, hoverinfo="skip"))
    if series105[i] is not None:
        d, v = split(series105[i])
        fig.add_trace(go.Scatter(x=d, y=v, mode="lines", line=dict(color="#c3c3c3", width=1.8),
                                 xaxis=xa, yaxis=ya, showlegend=False, connectgaps=False, hoverinfo="skip"))
    if n == 4:
        d, v = split(CO_DOTS_2012)
        fig.add_trace(go.Scatter(x=d, y=v, mode="markers", marker=dict(color="#9a9a9a", size=2),
                                 xaxis=xa, yaxis=ya, showlegend=False, hoverinfo="skip"))
    lw = 2.8 if n == 1 else 3.6
    ms = 11 if n == 1 else 13
    fig.add_trace(go.Scatter(x=MEAN_DAY, y=MEAN_2009_2012, mode="lines+markers",
                             line=dict(color="#ff0000", width=lw), marker=dict(color="#ff0000", size=ms),
                             xaxis=xa, yaxis=ya, showlegend=False, connectgaps=False))
    fig.add_trace(go.Scatter(x=MEAN_DAY, y=year_means[i], mode="lines+markers",
                             line=dict(color="#0000ff", width=lw), marker=dict(color="#0000ff", size=ms),
                             xaxis=xa, yaxis=ya, showlegend=False, connectgaps=False))

    top, bot = PANEL_PX[i]
    common_x = dict(domain=[0, 1], range=[0, 365], tickmode="array", tickvals=MONTH_TICKS,
                    ticktext=MONTH_LABELS, ticks="inside", ticklen=7, tickwidth=2, tickcolor="#444",
                    showline=True, linecolor="#333", linewidth=2, mirror="ticks", showgrid=False,
                    zeroline=False, anchor=ya, showticklabels=(n == 4),
                    tickfont=dict(family=FONT, size=FS, color="black"), ticklabelstandoff=5)
    common_y = dict(domain=[py(bot), py(top)], range=[80, 320], tickmode="array",
                    tickvals=[140, 200, 260], ticktext=["140", "200", "260"], ticks="inside",
                    ticklen=25, tickwidth=3, tickcolor="#555", showline=True, linecolor="#333",
                    linewidth=2, mirror="ticks", showgrid=False, zeroline=False, anchor=xa,
                    tickfont=dict(family=FONT, size=FS, color="black"), ticklabelstandoff=4)
    fig.update_layout(**{("xaxis" if n == 1 else f"xaxis{n}"): common_x,
                         ("yaxis" if n == 1 else f"yaxis{n}"): common_y})

    # edge tick labels (shifted inward as in the reference)
    annotations.append(dict(x=px_x(121), y=320, xref="paper", yref=ya, text="320", showarrow=False,
                            xanchor="right", yanchor="middle", yshift=-11,
                            font=dict(family=FONT, size=FS, color="black")))
    annotations.append(dict(x=px_x(121), y=80, xref="paper", yref=ya, text="80", showarrow=False,
                            xanchor="right", yanchor="middle", yshift=11,
                            font=dict(family=FONT, size=FS, color="black")))
    # panel tag
    annotations.append(dict(x=px_x(20), y=py(top + 11), xref="paper", yref="paper", text=PANEL_TAGS[i],
                            showarrow=False, xanchor="center", yanchor="middle",
                            font=dict(family=FONT, size=FS, color="black")))
    # y title
    annotations.append(dict(x=px_x(21), y=py((top + bot) / 2), xref="paper", yref="paper",
                            text="CO (ppb)", showarrow=False, textangle=-90, xanchor="center",
                            yanchor="middle", font=dict(family=FONT, size=33, color="black")))
    # year label
    annotations.append(dict(x=px_x(1357), y=py(top + 60 + i * 2), xref="paper", yref="paper",
                            text=str(YEARS[i]), showarrow=False, xanchor="center", yanchor="middle",
                            font=dict(family=FONT, size=FS, color="black")))

annotations.append(dict(x=px_x(776), y=py(1640), xref="paper", yref="paper", text="Time (LST)",
                        showarrow=False, xanchor="center", yanchor="middle",
                        font=dict(family=FONT, size=FS, color="black")))

# ---- legend drawn by hand (MATLAB-like) ----
shapes = [dict(type="rect", xref="paper", yref="paper", x0=px_x(564), x1=px_x(982),
               y0=py(143), y1=py(17), fillcolor="white", line=dict(color="#222", width=2), layer="above")]
legend_rows = [("CO 17 m agl", "black", False), ("CO 10, 5 m agl", "#c3c3c3", False),
               ("2009\u20132012 Mean", "#ff0000", True), ("Year Mean", "#0000ff", True)]
row_px = [38, 66, 93, 121]
for (label, col, mk), rp in zip(legend_rows, row_px):
    shapes.append(dict(type="line", xref="paper", yref="paper", x0=px_x(592), x1=px_x(695),
                       y0=py(rp), y1=py(rp), line=dict(color=col, width=5), layer="above"))
    if mk:
        shapes.append(dict(type="circle", xref="paper", yref="paper", xsizemode="pixel",
                           ysizemode="pixel", xanchor=px_x(643), yanchor=py(rp), x0=-11, x1=11,
                           y0=-11, y1=11, fillcolor=col, line=dict(color=col, width=1), layer="above"))
    annotations.append(dict(x=px_x(704 if label != "Year Mean" else 712), y=py(rp - 1), xref="paper",
                            yref="paper", text=label, showarrow=False, xanchor="left", yanchor="middle",
                            font=dict(family=FONT, size=32, color="black")))

fig.update_layout(width=W, height=H, margin=dict(l=ML, r=MR, t=MT, b=MB, pad=0),
                  paper_bgcolor="white", plot_bgcolor="white", showlegend=False,
                  annotations=annotations, shapes=shapes, font=dict(family=FONT, color="black"))

fig.write_html("out.html", config={"displayModeBar": False},
               post_script="document.body.style.margin='0';document.body.style.overflow='hidden';")
